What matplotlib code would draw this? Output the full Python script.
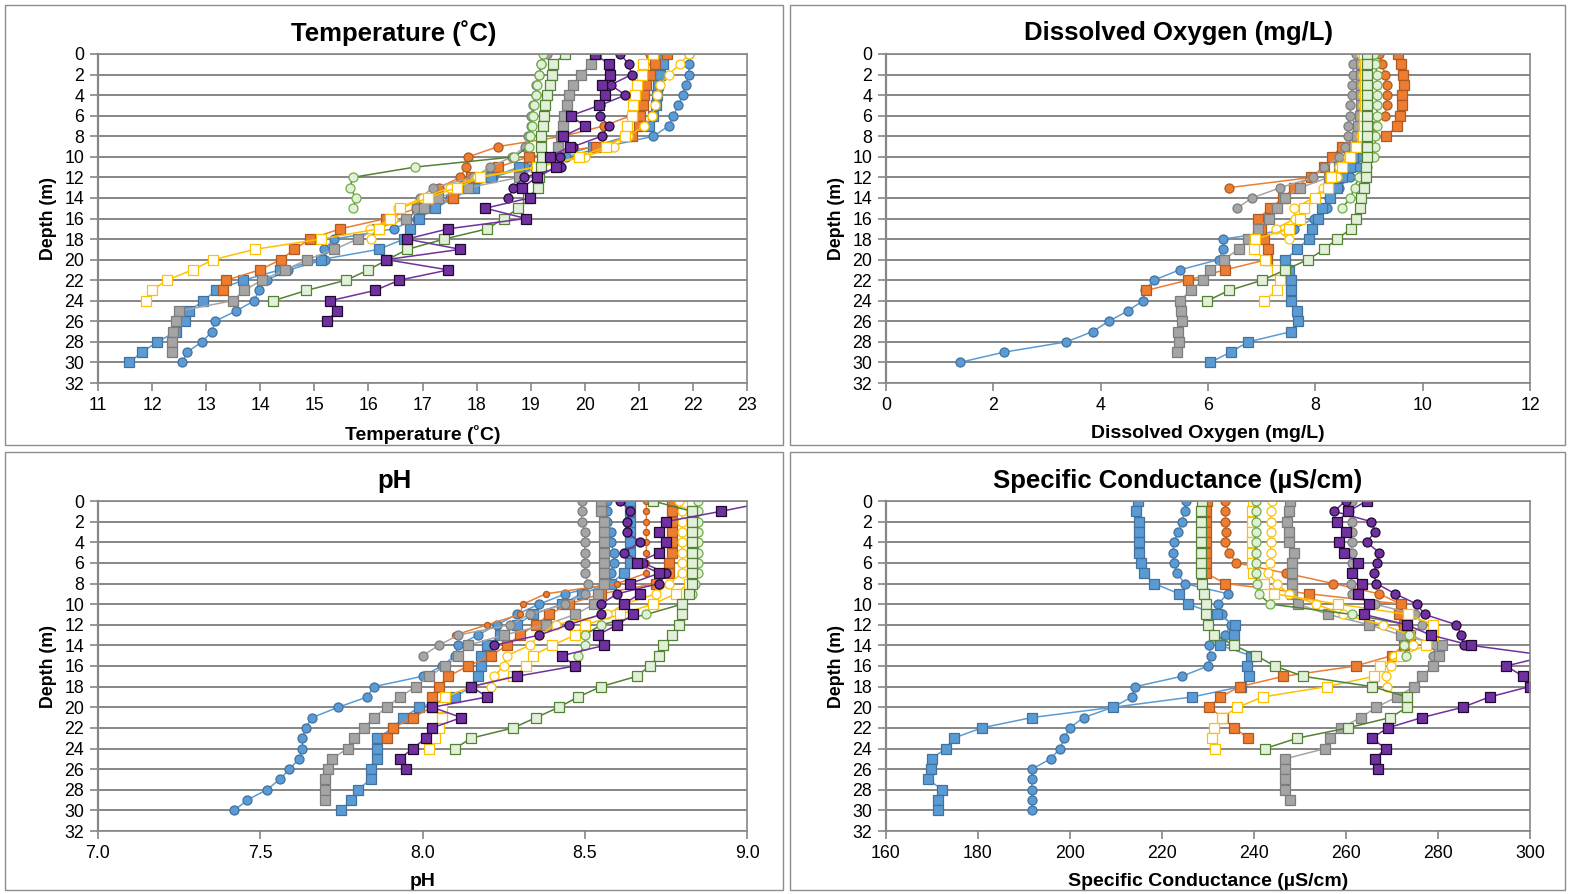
import numpy as np
import matplotlib
matplotlib.use("Agg")
import matplotlib.pyplot as plt
from matplotlib.patches import Rectangle
from matplotlib.ticker import FormatStrFormatter

plt.rcParams['font.family'] = ['Liberation Sans', 'DejaVu Sans']

# ---- Temperature (C), index = depth in m ----
temp_blue_c = [21.92, 21.93, 21.92, 21.87, 21.81, 21.73, 21.64, 21.55, 21.27, 20.40, 19.65, 18.90, 18.30, 17.90, 17.50, 17.20,
               16.90, 16.47, 15.37, 15.18, 15.20, 14.52, 14.12, 13.97, 13.89, 13.55, 13.16, 13.11, 12.92, 12.65, 12.56]
temp_blue_s = [21.45, 21.44, 21.39, 21.36, 21.34, 21.32, 21.27, 21.18, 20.78, 20.15, 19.50, 18.79, 18.26, 17.96, 17.57, 17.24,
               16.93, 16.77, 16.66, 16.19, 15.12, 14.36, 13.69, 13.18, 12.95, 12.68, 12.60, 12.44, 12.10, 11.81, 11.58]
temp_orange_c = [21.20, 21.10, 21.05, 21.00, 20.95, 20.90, 20.85, 20.35, 19.60, 18.40, 17.85, 17.80, 17.70, 17.30]
temp_orange_s = [21.52, 21.30, 21.21, 21.13, 21.10, 21.07, 21.02, 21.00, 20.87, 20.20, 18.96, 18.40, 17.90, 17.70, 17.57, 16.90,
                 16.33, 15.48, 14.92, 14.63, 14.38, 13.99, 13.37, 13.32]
temp_gray_c = [19.30, 19.20, 19.15, 19.10, 19.10, 19.05, 19.00, 19.00, 18.95, 18.90, 18.65, 18.25, 17.94, 17.19, 16.96, 16.88]
temp_gray_s = [20.20, 20.11, 19.93, 19.79, 19.71, 19.67, 19.62, 19.59, 19.57, 19.51, 19.45, 19.10, 18.79, 17.85, 17.28, 17.02,
               16.70, 16.15, 15.80, 15.37, 14.87, 14.46, 14.03, 13.70, 13.49, 12.50, 12.44, 12.39, 12.36, 12.36]
temp_yellow_c = [21.92, 21.76, 21.55, 21.39, 21.33, 21.30, 21.25, 21.10, 20.80, 20.55, 20.00, 19.10, 18.00, 17.50, 17.00, 16.55,
                 16.45, 16.03, 16.04]
temp_yellow_s = [21.27, 21.07, 21.05, 20.97, 20.93, 20.90, 20.87, 20.79, 20.75, 20.40, 19.90, 19.11, 18.07, 17.63, 17.10, 16.59,
                 16.40, 16.19, 15.12, 13.90, 13.13, 12.75, 12.27, 12.00, 11.88]
temp_green_c = [19.23, 19.20, 19.16, 19.12, 19.10, 19.06, 19.04, 19.02, 18.99, 18.96, 18.70, 16.86, 15.71, 15.66, 15.77, 15.72]
temp_green_s = [19.64, 19.42, 19.39, 19.35, 19.31, 19.27, 19.25, 19.22, 19.19, 19.19, 19.21, 19.20, 19.16, 19.13, 18.95, 18.77,
                18.50, 18.20, 17.40, 16.72, 16.35, 16.00, 15.59, 14.85, 14.24]
temp_purple_c = [20.66, 20.81, 20.87, 20.48, 20.75, 20.28, 20.28, 20.44, 20.31, 19.79, 19.54, 19.57, 18.87, 18.68, 18.59]
temp_purple_s = [20.19, 20.45, 20.46, 20.31, 20.38, 20.27, 19.74, 20.00, 19.60, 19.73, 19.35, 19.47, 19.11, 18.84, 18.98, 18.16,
                 18.91, 17.48, 16.71, 17.70, 16.33, 17.48, 16.57, 16.12, 15.29, 15.41, 15.23]

# ---- Dissolved oxygen (mg/L) ----
do_blue_c = [8.85, 8.85, 8.85, 8.85, 8.85, 8.85, 8.84, 8.83, 8.83, 8.82, 8.80, 8.80, 8.64, 8.44, 8.25, 8.22,
             7.97, 7.61, 6.28, 6.28, 6.20, 5.47, 4.99, 4.82, 4.79, 4.50, 4.15, 3.85, 3.36, 2.20, 1.37]
do_blue_s = [8.90, 8.90, 8.90, 8.90, 8.90, 8.90, 8.90, 8.88, 8.85, 8.80, 8.70, 8.65, 8.50, 8.40, 8.28, 8.13,
             8.05, 7.93, 7.88, 7.66, 7.44, 7.50, 7.55, 7.54, 7.54, 7.66, 7.67, 7.55, 6.75, 6.42, 6.04]
do_orange_c = [9.19, 9.25, 9.29, 9.33, 9.34, 9.33, 9.29, 9.10, 8.80, 8.49, 8.31, 8.16, 7.94, 6.39]
do_orange_s = [9.54, 9.60, 9.64, 9.65, 9.62, 9.62, 9.58, 9.53, 9.31, 8.50, 8.31, 8.16, 7.91, 7.61, 7.40, 7.16,
               6.93, 6.98, 7.05, 7.11, 7.10, 6.31, 5.62, 4.85]
do_gray_c = [8.75, 8.71, 8.70, 8.68, 8.68, 8.65, 8.65, 8.60, 8.60, 8.56, 8.45, 8.17, 7.96, 7.35, 6.82, 6.54]
do_gray_s = [8.87, 8.85, 8.85, 8.85, 8.85, 8.85, 8.83, 8.80, 8.78, 8.72, 8.63, 8.45, 8.25, 7.72, 7.43, 7.28,
             7.13, 6.93, 6.75, 6.57, 6.29, 6.04, 5.90, 5.68, 5.47, 5.50, 5.51, 5.45, 5.46, 5.42]
do_yellow_c = [8.85, 8.88, 8.88, 8.88, 8.88, 8.88, 8.88, 8.88, 8.85, 8.75, 8.60, 8.45, 8.40, 8.15, 7.97, 7.60,
               7.62, 7.26, 7.50]
do_yellow_s = [8.90, 8.92, 8.92, 8.92, 8.92, 8.92, 8.90, 8.90, 8.88, 8.75, 8.65, 8.50, 8.30, 8.23, 8.00, 7.79,
               7.72, 7.51, 6.88, 6.85, 7.07, 7.29, 7.35, 7.28, 7.04]
do_green_c = [9.09, 9.12, 9.15, 9.15, 9.15, 9.15, 9.15, 9.15, 9.12, 9.11, 9.10, 8.97, 8.81, 8.73, 8.65, 8.50]
do_green_s = [8.97, 8.97, 8.97, 8.97, 8.97, 8.97, 8.97, 8.97, 8.97, 8.97, 8.96, 8.95, 8.95, 8.90, 8.85, 8.83,
              8.75, 8.67, 8.40, 8.17, 7.86, 7.44, 7.01, 6.39, 5.99]

# ---- pH ----
ph_blue_c = [8.57, 8.57, 8.57, 8.58, 8.58, 8.59, 8.59, 8.58, 8.58, 8.44, 8.36, 8.29, 8.23, 8.17, 8.11, 8.10,
             8.06, 8.00, 7.85, 7.83, 7.74, 7.66, 7.64, 7.63, 7.63, 7.62, 7.59, 7.56, 7.52, 7.46, 7.42]
ph_blue_s = [8.64, 8.64, 8.64, 8.64, 8.64, 8.64, 8.64, 8.62, 8.58, 8.49, 8.43, 8.34, 8.29, 8.24, 8.20, 8.18,
             8.18, 8.17, 8.15, 8.10, 7.99, 7.94, 7.91, 7.86, 7.86, 7.86, 7.84, 7.84, 7.80, 7.78, 7.75]
ph_orange_c = [8.69, 8.69, 8.69, 8.69, 8.69, 8.69, 8.69, 8.69, 8.60, 8.38, 8.31, 8.30, 8.20, 8.10]
ph_orange_s = [8.77, 8.77, 8.77, 8.77, 8.77, 8.77, 8.76, 8.76, 8.72, 8.55, 8.45, 8.39, 8.35, 8.30, 8.26, 8.21,
               8.14, 8.08, 8.05, 8.03, 8.03, 7.97, 7.91, 7.89]
ph_gray_c = [8.49, 8.49, 8.49, 8.50, 8.50, 8.50, 8.50, 8.50, 8.51, 8.50, 8.44, 8.33, 8.27, 8.11, 8.05, 8.00]
ph_gray_s = [8.55, 8.55, 8.56, 8.56, 8.56, 8.56, 8.56, 8.56, 8.56, 8.54, 8.53, 8.47, 8.38, 8.25, 8.14, 8.11,
             8.07, 8.02, 7.98, 7.93, 7.89, 7.85, 7.82, 7.79, 7.77, 7.72, 7.71, 7.70, 7.70, 7.70]
ph_yellow_c = [8.79, 8.80, 8.80, 8.80, 8.80, 8.80, 8.80, 8.80, 8.76, 8.72, 8.62, 8.57, 8.41, 8.36, 8.33, 8.26,
               8.25, 8.22, 8.21]
ph_yellow_s = [8.83, 8.83, 8.83, 8.83, 8.83, 8.83, 8.83, 8.83, 8.82, 8.78, 8.71, 8.61, 8.50, 8.47, 8.40, 8.34,
               8.32, 8.28, 8.15, 8.07, 8.06, 8.06, 8.05, 8.04, 8.02]
ph_green_c = [8.85, 8.85, 8.85, 8.85, 8.85, 8.85, 8.85, 8.85, 8.84, 8.83, 8.80, 8.69, 8.55, 8.50, 8.50, 8.48]
ph_green_s = [8.71, 8.83, 8.83, 8.83, 8.83, 8.83, 8.83, 8.83, 8.83, 8.82, 8.80, 8.80, 8.79, 8.77, 8.74, 8.73,
              8.70, 8.66, 8.55, 8.48, 8.42, 8.35, 8.28, 8.15, 8.10]
ph_purple_c = [8.61, 8.64, 8.63, 8.63, 8.67, 8.62, 8.68, 8.75, 8.73, 8.60, 8.55, 8.55, 8.45, 8.36, 8.22]
ph_purple_s = [9.08, 8.92, 8.75, 8.73, 8.75, 8.73, 8.66, 8.73, 8.64, 8.67, 8.62, 8.65, 8.60, 8.54, 8.56, 8.43,
               8.47, 8.29, 8.15, 8.20, 8.03, 8.12, 8.03, 8.01, 7.97, 7.93, 7.95]

# ---- Specific conductance (uS/cm) ----
sc_blue_c = [225.2, 224.9, 224.4, 223.5, 222.6, 222.3, 222.6, 223.3, 224.9, 234.3, 232.1, 233.0, 235.1, 233.6, 230.2, 230.6,
             230.0, 224.3, 214.2, 213.5, 209.3, 203.0, 199.9, 198.8, 197.8, 195.8, 191.7, 191.7, 191.7, 191.7, 191.7]
sc_blue_s = [214.7, 214.4, 214.9, 215.0, 214.9, 215.0, 215.4, 216.0, 218.3, 223.7, 225.7, 231.9, 235.9, 235.6, 232.7, 239.3,
             238.4, 239.0, 237.2, 226.6, 209.4, 191.7, 180.8, 174.7, 173.0, 169.9, 169.7, 169.2, 172.2, 171.2, 171.2]
sc_orange_c = [233.8, 233.8, 233.8, 234.0, 233.8, 234.6, 236.1, 246.9, 257.2, 267.2, 272.0, 271.8, 272.4, 273.1]
sc_orange_s = [229.7, 229.5, 229.5, 229.5, 229.5, 229.5, 229.5, 229.5, 233.8, 252.0, 272.0, 271.5, 272.7, 274.0, 272.6, 269.9,
               262.1, 246.4, 236.9, 232.7, 230.2, 233.2, 235.7, 238.8]
sc_gray_c = [261.3, 260.6, 261.2, 261.2, 261.2, 261.2, 261.2, 261.3, 261.0, 261.3, 266.3, 275.1, 276.6, 274.0, 279.3, 278.9]
sc_gray_s = [247.8, 247.5, 247.2, 247.6, 247.6, 248.6, 248.3, 248.3, 248.3, 248.3, 249.5, 256.1, 265.0, 272.0, 280.9, 280.2,
             278.9, 276.5, 274.8, 271.1, 266.6, 263.2, 259.0, 256.6, 255.5, 246.8, 246.8, 246.8, 246.8, 247.8]
sc_yellow_c = [244.0, 243.6, 243.6, 243.6, 243.6, 243.6, 243.4, 243.1, 245.0, 247.5, 253.5, 259.4, 268.0, 274.0, 274.5, 270.4,
               269.7, 268.6, 269.0]
sc_yellow_s = [239.8, 239.5, 239.5, 239.5, 239.5, 239.5, 239.5, 239.8, 242.2, 244.4, 258.3, 273.4, 279.0, 278.9, 277.4, 271.9,
               267.4, 266.1, 255.8, 241.9, 236.4, 233.0, 231.4, 230.9, 231.5]
sc_green_c = [240.5, 240.4, 240.4, 240.4, 240.4, 240.4, 240.4, 240.4, 240.6, 241.0, 243.5, 261.3, 273.4, 273.8, 272.7, 273.1]
sc_green_s = [228.6, 228.4, 228.4, 228.4, 228.4, 228.4, 228.4, 228.4, 228.8, 229.2, 229.5, 229.6, 230.0, 231.3, 235.7, 240.5,
              244.5, 250.7, 265.7, 273.3, 273.3, 269.6, 260.4, 249.4, 242.4]
sc_purple_c = [259.9, 257.4, 265.5, 266.3, 264.5, 267.2, 266.8, 266.0, 266.6, 270.7, 275.4, 277.1, 284.0, 285.1, 285.6]
sc_purple_s = [264.5, 260.5, 258.1, 260.0, 258.4, 259.6, 262.5, 261.4, 263.5, 262.7, 264.9, 263.9, 273.2, 278.4, 287.2, 304.0,
               294.8, 298.5, 299.9, 291.2, 285.4, 276.5, 269.1, 265.6, 268.6, 266.3, 267.0]

# series look (Excel-like palette)
styles = {
    'blue_c':   dict(marker='o', color='#5B9BD5', mfc='#5B9BD5', mec='#41719C'),
    'blue_s':   dict(marker='s', color='#5B9BD5', mfc='#5B9BD5', mec='#41719C'),
    'orange_c': dict(marker='o', color='#ED7D31', mfc='#ED7D31', mec='#AE5A21'),
    'orange_s': dict(marker='s', color='#ED7D31', mfc='#ED7D31', mec='#AE5A21'),
    'gray_c':   dict(marker='o', color='#A5A5A5', mfc='#A5A5A5', mec='#7C7C7C'),
    'gray_s':   dict(marker='s', color='#A5A5A5', mfc='#A5A5A5', mec='#7C7C7C'),
    'yellow_c': dict(marker='o', color='#FFC000', mfc='white', mec='#FFC000'),
    'yellow_s': dict(marker='s', color='#FFC000', mfc='white', mec='#FFC000'),
    'green_c':  dict(marker='o', color='#548235', mfc='#E2F0D9', mec='#70AD47'),
    'green_s':  dict(marker='s', color='#548235', mfc='#E2F0D9', mec='#548235'),
    'purple_c': dict(marker='o', color='#7030A0', mfc='#7030A0', mec='#1E0A2E'),
    'purple_s': dict(marker='s', color='#7030A0', mfc='#7030A0', mec='#1E0A2E'),
}

W, H = 1570, 894
fig = plt.figure(figsize=(W / 100, H / 100), dpi=100)
GRID = '#868686'


def px_axes(x0, y0, x1, y1):
    return fig.add_axes([x0 / W, 1 - y1 / H, (x1 - x0) / W, (y1 - y0) / H])


def draw(ax, series, xlim, xticks, xfmt, title, title_xy, xlabel, small=()):
    for name, vals in series:
        st = styles[name]
        ms = 4.4 if name in small else 6.5
        ax.plot(vals, np.arange(len(vals)), lw=1.1, ms=ms, mew=0.9, **st)
    ax.set_xlim(*xlim)
    ax.set_xticks(xticks)
    ax.xaxis.set_major_formatter(FormatStrFormatter(xfmt))
    ax.set_ylim(32, 0)
    ax.set_yticks(range(0, 33, 2))
    ax.set_axisbelow(True)
    ax.grid(axis='y', color=GRID, lw=1.4)
    for sp in ax.spines.values():
        sp.set_color(GRID)
        sp.set_linewidth(1.2)
    ax.spines['left'].set_linewidth(1.6)
    ax.tick_params(direction='out', length=6, width=1.2, color=GRID, labelsize=12.8, pad=4)
    ax.set_xlabel(xlabel, fontsize=14, fontweight='bold', labelpad=8)
    ax.set_ylabel('Depth (m)', fontsize=12.8, fontweight='bold', labelpad=5)
    fig.text(title_xy[0] / W, 1 - title_xy[1] / H, title, fontsize=18.5, fontweight='bold',
             ha='center', va='center')


order = ['blue_c', 'blue_s', 'orange_c', 'orange_s', 'gray_c', 'gray_s',
         'yellow_c', 'yellow_s', 'green_c', 'green_s', 'purple_c', 'purple_s']
temp = dict(zip(order, [temp_blue_c, temp_blue_s, temp_orange_c, temp_orange_s, temp_gray_c, temp_gray_s,
                        temp_yellow_c, temp_yellow_s, temp_green_c, temp_green_s, temp_purple_c, temp_purple_s]))
do = dict(zip(order[:10], [do_blue_c, do_blue_s, do_orange_c, do_orange_s, do_gray_c, do_gray_s,
                           do_yellow_c, do_yellow_s, do_green_c, do_green_s]))
ph = dict(zip(order, [ph_blue_c, ph_blue_s, ph_orange_c, ph_orange_s, ph_gray_c, ph_gray_s,
                      ph_yellow_c, ph_yellow_s, ph_green_c, ph_green_s, ph_purple_c, ph_purple_s]))
sc = dict(zip(order, [sc_blue_c, sc_blue_s, sc_orange_c, sc_orange_s, sc_gray_c, sc_gray_s,
                      sc_yellow_c, sc_yellow_s, sc_green_c, sc_green_s, sc_purple_c, sc_purple_s]))

# panel frames
for (x0, y0, x1, y1) in [(5, 5, 783, 445), (790, 5, 1565, 445), (5, 452, 783, 890), (790, 452, 1565, 890)]:
    fig.add_artist(Rectangle((x0 / W, 1 - y1 / H), (x1 - x0) / W, (y1 - y0) / H, transform=fig.transFigure,
                             fill=False, edgecolor='#8C8C8C', lw=1.0))

ax1 = px_axes(98, 54, 747, 383)
draw(ax1, list(temp.items()), (11, 23), range(11, 24), '%d', 'Temperature (˚C)', (394, 33), 'Temperature (˚C)')

ax2 = px_axes(886, 54, 1530, 383)
draw(ax2, list(do.items()), (0, 12), range(0, 13, 2), '%d', 'Dissolved Oxygen (mg/L)', (1178, 33),
     'Dissolved Oxygen (mg/L)')

ax3 = px_axes(98, 501, 747, 831)
draw(ax3, list(ph.items()), (7.0, 9.0), np.arange(7.0, 9.01, 0.5), '%.1f', 'pH', (394, 481), 'pH',
     small=('orange_c',))

ax4 = px_axes(886, 501, 1530, 831)
draw(ax4, list(sc.items()), (160, 300), range(160, 301, 20), '%d', 'Specific Conductance (µS/cm)', (1178, 481),
     'Specific Conductance (µS/cm)')

fig.savefig('out.png', dpi=100)
